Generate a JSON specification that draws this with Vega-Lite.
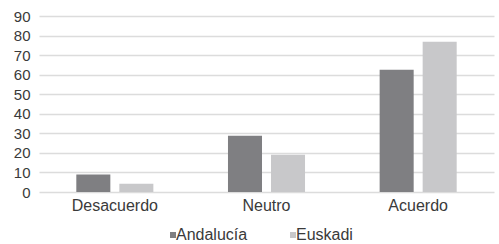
{
  "$schema": "https://vega.github.io/schema/vega-lite/v6.json",
  "autosize": "none",
  "width": 455,
  "height": 176,
  "padding": {"left": 39, "top": 16, "right": 5, "bottom": 52},
  "background": "white",
  "data": {
    "values": [
      {"cat": "Desacuerdo", "region": "Andalucía", "value": 9},
      {"cat": "Desacuerdo", "region": "Euskadi", "value": 4.2},
      {"cat": "Neutro", "region": "Andalucía", "value": 28.8},
      {"cat": "Neutro", "region": "Euskadi", "value": 19},
      {"cat": "Acuerdo", "region": "Andalucía", "value": 62.5},
      {"cat": "Acuerdo", "region": "Euskadi", "value": 76.8}
    ]
  },
  "mark": {"type": "bar"},
  "encoding": {
    "x": {
      "field": "cat", "type": "nominal", "sort": ["Desacuerdo", "Neutro", "Acuerdo"],
      "scale": {"paddingInner": 0.492, "paddingOuter": 0.246},
      "axis": {"title": null, "labelAngle": 0, "ticks": false, "domain": false, "labelFont": "Liberation Sans", "labelFontSize": 16, "labelColor": "#3a3a3a", "labelPadding": 5}
    },
    "xOffset": {
      "field": "region", "type": "nominal",
      "scale": {"paddingInner": 0.209, "paddingOuter": 0}
    },
    "y": {
      "field": "value", "type": "quantitative",
      "scale": {"domain": [0, 90], "nice": false},
      "axis": {"title": null, "values": [0,10,20,30,40,50,60,70,80,90], "ticks": false, "domain": false, "grid": true, "gridColor": "#dcdcdc", "gridWidth": 1.5, "labelFont": "Liberation Sans", "labelFontSize": 15, "labelColor": "#3a3a3a", "labelPadding": 9}
    },
    "color": {
      "field": "region", "type": "nominal",
      "scale": {"domain": ["Andalucía", "Euskadi"], "range": ["#7f7f82", "#c8c8ca"]},
      "legend": {
        "title": null, "orient": "none", "direction": "horizontal",
        "legendX": 126, "legendY": 211,
        "symbolType": "square", "symbolSize": 36, "symbolStrokeWidth": 0,
        "labelFont": "Liberation Sans", "labelFontSize": 16, "labelColor": "#3a3a3a",
        "labelOffset": -5, "columnPadding": 37
      }
    }
  },
  "config": {"view": {"stroke": null}}
}
